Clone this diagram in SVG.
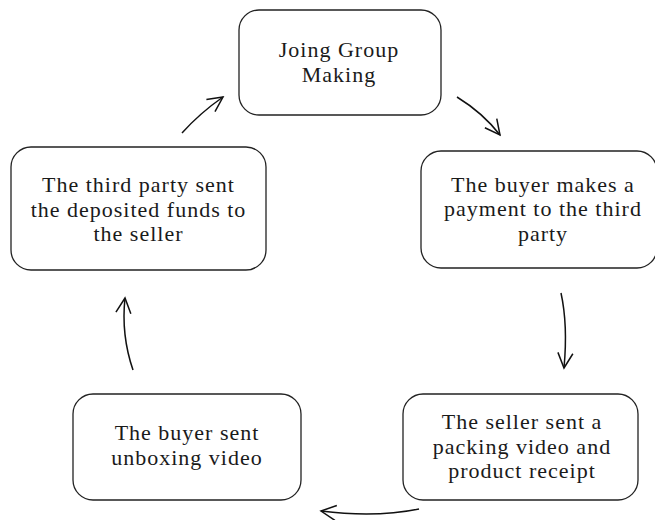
<svg xmlns="http://www.w3.org/2000/svg" width="655" height="520" viewBox="0 0 655 520">
<style>
.box{fill:#fff;stroke:#222;stroke-width:1.3}
.t{font-family:"Liberation Serif","DejaVu Serif",serif;font-size:22px;letter-spacing:1px;fill:#1a1a1a;text-anchor:middle}
.c{fill:none;stroke:#111;stroke-width:1.5}
</style>
<defs>
<marker id="ah" viewBox="0 0 18 18" refX="16" refY="9" markerWidth="18" markerHeight="18" markerUnits="userSpaceOnUse" orient="auto">
<path d="M1,1.5 L16,9 L1,16.5" fill="none" stroke="#111" stroke-width="1.5"/>
</marker>
</defs>
<rect width="655" height="520" fill="#fff"/>
<g id="n1"><rect class="box" x="239" y="10" width="202" height="105" rx="20"/>
<text class="t" x="339" y="57">Joing Group</text><text class="t" x="339" y="81.5">Making</text></g>
<g id="n2"><rect class="box" x="421" y="151" width="236" height="117" rx="20"/>
<text class="t" x="543" y="192">The buyer makes a</text><text class="t" x="543" y="216">payment to the third</text><text class="t" x="543" y="240.5">party</text></g>
<g id="n3"><rect class="box" x="403" y="394" width="235" height="106" rx="20"/>
<text class="t" x="522" y="429">The seller sent a</text><text class="t" x="522" y="453.5">packing video and</text><text class="t" x="522" y="478">product receipt</text></g>
<g id="n4"><rect class="box" x="73" y="394" width="228" height="106" rx="20"/>
<text class="t" x="187" y="440">The buyer sent</text><text class="t" x="187" y="464.5">unboxing video</text></g>
<g id="n5"><rect class="box" x="11" y="147" width="255" height="123" rx="20"/>
<text class="t" x="138.5" y="192">The third party sent</text><text class="t" x="138.5" y="216.5">the deposited funds to</text><text class="t" x="138.5" y="241">the seller</text></g>
<g id="connectors">
<path class="c" d="M182,133 Q200,113 223,97" marker-end="url(#ah)"/>
<path class="c" d="M457,97 Q483,113 500,135" marker-end="url(#ah)"/>
<path class="c" d="M561,293 Q568,325 564,368" marker-end="url(#ah)"/>
<path class="c" d="M419,509 Q375,518 321,511" marker-end="url(#ah)"/>
<path class="c" d="M133,370 Q121,335 125,298" marker-end="url(#ah)"/>
</g>
</svg>
